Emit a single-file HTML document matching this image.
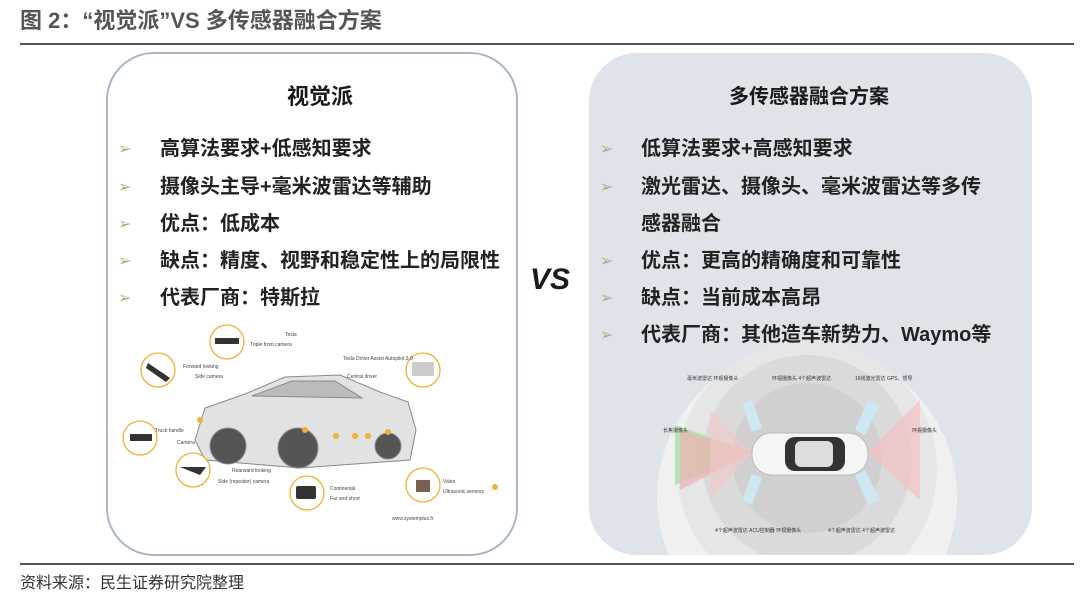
<!DOCTYPE html>
<html><head><meta charset="utf-8"><style>
html,body{margin:0;width:1080px;height:607px;overflow:hidden}
body{background:#fff;position:relative;font-family:"Liberation Sans","Noto Sans CJK SC",sans-serif;color:#1a1a1a}
.a{position:absolute;white-space:nowrap;line-height:1.2}
.t{font-size:20px;font-weight:bold;color:#222}
.b{font-size:16px;color:#b8a878}
</style></head><body>
<div class="a" style="left:20px;top:8px;font-size:22px;font-weight:bold;color:#555">图 2：“视觉派”VS 多传感器融合方案</div>
<div class="a" style="left:20px;top:43px;width:1054px;height:2px;background:#555"></div>
<div class="a" style="left:106px;top:52px;width:408px;height:500px;border:2px solid #aab6c6;border-radius:48px;background:#fff"></div>
<div class="a" style="left:589px;top:53px;width:443px;height:502px;border-radius:48px;background:#dfe3ea"></div>
<svg class="a" style="left:0;top:0" width="1080" height="607">
<defs><clipPath id="c"><rect x="589" y="53" width="443" height="502" rx="48"/></clipPath></defs>
<g clip-path="url(#c)">
<circle cx="807" cy="497" r="150" fill="#f0f0f0"/>
<circle cx="807" cy="470" r="130" fill="#e6e6e6"/>
<circle cx="807" cy="460" r="105" fill="#dadada"/>
<circle cx="807" cy="458" r="75" fill="#d0d0d0"/>
<path d="M752 452 L675 425 L675 485Z" fill="#a8e0a8" opacity=".8"/>
<path d="M752 452 L680 430 L680 490Z" fill="#f0b0b0" opacity=".7"/>
<path d="M752 452 L710 410 L710 500Z" fill="#f4c8c8" opacity=".6"/>
<path d="M868 452 L920 400 L920 500Z" fill="#f4c0c0" opacity=".7"/>
<path d="M742 405 L752 432 L762 428 L752 400Z" fill="#cde8f0"/>
<path d="M742 500 L752 474 L762 478 L752 505Z" fill="#cde8f0"/>
<path d="M868 400 L855 430 L865 435 L880 405Z" fill="#cde8f0"/>
<path d="M868 505 L855 475 L865 470 L880 500Z" fill="#cde8f0"/>
<rect x="752" y="433" width="116" height="42" rx="20" fill="#f5f5f5" stroke="#bbb"/>
<rect x="785" y="437" width="60" height="34" rx="10" fill="#333"/>
<rect x="795" y="441" width="38" height="26" rx="6" fill="#ddd"/>
</g>
<g fill="#333" font-size="5"><text x="687" y="380">毫米波雷达 环视摄像头</text><text x="772" y="380">环视摄像头 4个超声波雷达</text><text x="855" y="380">16线激光雷达 GPS、惯导</text><text x="663" y="432">长焦摄像头</text><text x="912" y="432">环视摄像头</text><text x="715" y="532">4个超声波雷达 ACU控制器 环视摄像头</text><text x="828" y="532">4个超声波雷达 4个超声波雷达</text></g>
<g stroke="#888" fill="#e2e2e2">
<path d="M195 440 L205 408 L245 394 L285 377 L340 375 L380 392 L408 402 L416 430 L410 460 L300 468 L205 460Z"/>
<path d="M252 396 L292 381 L335 381 L362 398Z" fill="#bbb"/>
<circle cx="228" cy="446" r="18" fill="#555"/><circle cx="298" cy="448" r="20" fill="#555"/><circle cx="388" cy="446" r="13" fill="#555"/>
</g>
<g stroke="#f0b030" stroke-width="1.3" fill="#fff">
<circle cx="227" cy="342" r="17"/><circle cx="158" cy="370" r="17"/><circle cx="140" cy="438" r="17"/><circle cx="193" cy="470" r="17"/><circle cx="307" cy="493" r="17"/><circle cx="423" cy="370" r="17"/><circle cx="423" cy="485" r="17"/>
</g>
<g fill="#333"><rect x="215" y="338" width="24" height="6"/><path d="M148 363 L170 378 L166 382 L146 368Z"/><rect x="130" y="434" width="22" height="7"/><rect x="296" y="486" width="20" height="13" rx="2"/><rect x="412" y="362" width="22" height="14" fill="#ccc"/><rect x="416" y="480" width="14" height="12" fill="#7a6050"/><path d="M180 467 L206 467 L200 475Z"/></g>
<g fill="#f0b030"><circle cx="200" cy="420" r="3"/><circle cx="305" cy="430" r="3"/><circle cx="336" cy="436" r="3"/><circle cx="355" cy="436" r="3"/><circle cx="368" cy="436" r="3"/><circle cx="388" cy="432" r="3"/><circle cx="495" cy="487" r="3"/></g>
<g fill="#444" font-size="5"><text x="285" y="336">Tesla</text><text x="250" y="346">Triple front camera</text><text x="183" y="368">Forward looking</text><text x="195" y="378">Side camera</text><text x="343" y="360">Tesla Driver Assist Autopilot 3.0</text><text x="347" y="378">Central driver</text><text x="155" y="432">Truck handle</text><text x="177" y="444">Camera</text><text x="232" y="472">Rearward looking</text><text x="218" y="483">Side (repeater) camera</text><text x="330" y="490">Continental</text><text x="330" y="500">Far and short</text><text x="443" y="483">Valeo</text><text x="443" y="493">Ultrasonic sensors</text><text x="392" y="520">www.systemplus.fr</text></g>
</svg>
<div class="a" style="left:287px;top:84px;font-size:22px;font-weight:bold">视觉派</div>
<div class="a" style="left:729px;top:85px;font-size:20px;font-weight:bold">多传感器融合方案</div>
<div class="a b" style="left:118px;top:140px">➢</div><div class="a t" style="left:160px;top:137px">高算法要求+低感知要求</div>
<div class="a b" style="left:118px;top:178px">➢</div><div class="a t" style="left:160px;top:175px">摄像头主导+毫米波雷达等辅助</div>
<div class="a b" style="left:118px;top:215px">➢</div><div class="a t" style="left:160px;top:212px">优点：低成本</div>
<div class="a b" style="left:118px;top:252px">➢</div><div class="a t" style="left:160px;top:249px">缺点：精度、视野和稳定性上的局限性</div>
<div class="a b" style="left:118px;top:289px">➢</div><div class="a t" style="left:160px;top:286px">代表厂商：特斯拉</div>
<div class="a" style="left:530px;top:262px;font-size:30px;font-weight:bold;font-style:italic">VS</div>
<div class="a b" style="left:600px;top:140px">➢</div><div class="a t" style="left:641px;top:137px">低算法要求+高感知要求</div>
<div class="a b" style="left:600px;top:178px">➢</div><div class="a t" style="left:641px;top:175px">激光雷达、摄像头、毫米波雷达等多传</div>
<div class="a t" style="left:641px;top:212px">感器融合</div>
<div class="a b" style="left:600px;top:252px">➢</div><div class="a t" style="left:641px;top:249px">优点：更高的精确度和可靠性</div>
<div class="a b" style="left:600px;top:289px">➢</div><div class="a t" style="left:641px;top:286px">缺点：当前成本高昂</div>
<div class="a b" style="left:600px;top:326px">➢</div><div class="a t" style="left:641px;top:323px">代表厂商：其他造车新势力、Waymo等</div>
<div class="a" style="left:20px;top:563px;width:1054px;height:2px;background:#555"></div>
<div class="a" style="left:20px;top:574px;font-size:16px;color:#333">资料来源：民生证券研究院整理</div>
</body></html>
